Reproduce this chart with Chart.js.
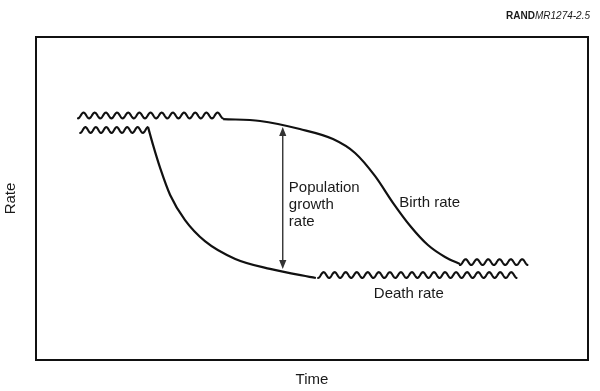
<!DOCTYPE html>
<html><head><meta charset="utf-8">
<script src="https://cdn.jsdelivr.net/npm/chart.js@4.4.1/dist/chart.umd.min.js"></script>
<style>html,body{margin:0;padding:0;background:#fff}#wrap{width:600px;height:391px}</style>
</head><body><div id="wrap"><canvas id="c" width="600" height="391"></canvas></div>
<script>
// ---- data (time 0..100, rate 0..100) ----
const birthX = [33.9, 40.6, 47.8, 53.8, 57.8, 61.4, 64.7, 67.8, 71.0, 74.1, 76.8];
const birthY = [74.6, 74.0, 71.5, 68.4, 64.1, 57.0, 48.6, 41.5, 35.6, 31.9, 29.7];
const deathX = [20.3, 21.2, 22.5, 24.3, 27.0, 30.6, 36.1, 42.4, 50.7];
const deathY = [72.1, 66.6, 59.4, 51.1, 43.3, 36.8, 31.3, 28.2, 25.4];
// fluctuating (wavy) stretches: [start, end] times and level
const birthEarlyWaveX = [7.6, 33.9], birthEarlyWaveY = 75.7;
const deathEarlyWaveX = [8.0, 20.3], deathEarlyWaveY = 71.2;
const birthLateWaveX  = [76.8, 89.1], birthLateWaveY = 30.3;
const deathLateWaveX  = [51.1, 87.1], deathLateWaveY = 26.3;
// growth-rate arrow
const arrowX = 44.7, arrowY = [72.1, 28.2];
const axisTitles = {x: 'Time', y: 'Rate'};
const curveLabels = ['Population', 'growth', 'rate', 'Birth rate', 'Death rate'];
const sourceNote = ['RAND', 'MR1274-2.5'];

const pts = (xs, ys) => xs.map((x, i) => ({x, y: Array.isArray(ys) ? ys[i] : ys}));
const INK = '#111';
const FONT = "'Liberation Sans', Arial, Helvetica, sans-serif";

function drawWave(ctx, x0, x1, cy, amp, period, endTop) {
  const len = x1 - x0;
  let n = Math.max(1, Math.round(len / period));
  if (endTop) n += 0.5;
  const P = len / n;
  ctx.beginPath();
  for (let t = 0; t <= len + 0.01; t += 0.5) {
    const y = cy + amp * Math.cos(2 * Math.PI * t / P);
    if (t === 0) ctx.moveTo(x0 + t, y); else ctx.lineTo(x0 + t, y);
  }
  ctx.stroke();
}

const decor = {
  id: 'decor',
  afterDatasetsDraw(chart) {
    const ctx = chart.ctx, ca = chart.chartArea;
    const xs = chart.scales.x, ys = chart.scales.y;
    ctx.save();
    // frame
    ctx.strokeStyle = INK; ctx.lineWidth = 2;
    ctx.strokeRect(ca.left, ca.top, ca.right - ca.left, ca.bottom - ca.top);
    // waves and arrow
    chart.data.datasets.forEach((ds, i) => {
      const meta = chart.getDatasetMeta(i);
      if (ds.wave) {
        const a = meta.data[0], b = meta.data[1];
        ctx.strokeStyle = INK; ctx.lineWidth = 2.1; ctx.lineJoin = 'round'; ctx.lineCap = 'round';
        drawWave(ctx, a.x, b.x, a.y, 2.9, 11, ds.endTop);
      }
      if (ds.arrow) {
        const a = meta.data[0], b = meta.data[1];
        ctx.strokeStyle = '#333'; ctx.fillStyle = '#333'; ctx.lineWidth = 1.4;
        const hl = 9, hw = 3.6;
        ctx.beginPath(); ctx.moveTo(a.x, a.y + hl - 1); ctx.lineTo(b.x, b.y - hl + 1); ctx.stroke();
        ctx.beginPath(); ctx.moveTo(a.x, a.y); ctx.lineTo(a.x - hw, a.y + hl); ctx.lineTo(a.x + hw, a.y + hl); ctx.closePath(); ctx.fill();
        ctx.beginPath(); ctx.moveTo(b.x, b.y); ctx.lineTo(b.x - hw, b.y - hl); ctx.lineTo(b.x + hw, b.y - hl); ctx.closePath(); ctx.fill();
      }
    });
    // curve labels (anchored in data space)
    ctx.fillStyle = '#1a1a1a'; ctx.font = '15px ' + FONT;
    ctx.textAlign = 'left'; ctx.textBaseline = 'alphabetic';
    const place = [[45.8, 52.0], [45.8, 46.7], [45.8, 41.5], [65.8, 47.4], [61.2, 19.3]];
    curveLabels.forEach((t, i) => {
      ctx.fillText(t, xs.getPixelForValue(place[i][0]), ys.getPixelForValue(place[i][1]));
    });
    // source note, top right
    ctx.textAlign = 'right';
    ctx.font = 'italic 10px ' + FONT;
    const w2 = ctx.measureText(sourceNote[1]).width;
    ctx.fillText(sourceNote[1], 590, 19);
    ctx.font = 'bold 10px ' + FONT;
    ctx.fillText(sourceNote[0], 590 - w2, 19);
    ctx.restore();
  }
};

const lineDs = (xs, ys) => ({
  data: pts(xs, ys), borderColor: INK, borderWidth: 2.2, pointRadius: 0,
  cubicInterpolationMode: 'monotone', fill: false, borderJoinStyle: 'round'
});
const hiddenDs = (xs, y, extra) => Object.assign({
  data: pts(xs, y), showLine: false, pointRadius: 0, borderWidth: 0
}, extra);

new Chart(document.getElementById('c'), {
  type: 'line',
  data: {
    datasets: [
      lineDs(birthX, birthY),
      lineDs(deathX, deathY),
      hiddenDs(birthEarlyWaveX, birthEarlyWaveY, {wave: true, endTop: false}),
      hiddenDs(deathEarlyWaveX, deathEarlyWaveY, {wave: true, endTop: true}),
      hiddenDs(birthLateWaveX, birthLateWaveY, {wave: true, endTop: false}),
      hiddenDs(deathLateWaveX, deathLateWaveY, {wave: true, endTop: false}),
      hiddenDs([arrowX, arrowX], arrowY, {arrow: true})
    ]
  },
  options: {
    responsive: false, animation: false, devicePixelRatio: 1,
    layout: {padding: {left: 0, right: 12, top: 37, bottom: 0}},
    plugins: {legend: {display: false}, tooltip: {enabled: false}},
    scales: {
      x: {type: 'linear', min: 0, max: 100,
        ticks: {display: false}, grid: {display: false, drawTicks: false}, border: {display: false},
        title: {display: true, text: axisTitles.x, color: '#1a1a1a', font: {family: FONT, size: 15}, padding: {top: 11, bottom: 2}}},
      y: {type: 'linear', min: 0, max: 100,
        ticks: {display: false}, grid: {display: false, drawTicks: false}, border: {display: false},
        title: {display: true, text: axisTitles.y, color: '#1a1a1a', font: {family: FONT, size: 15}, padding: {top: 2, bottom: 16}}}
    }
  },
  plugins: [decor]
});
</script></body></html>
